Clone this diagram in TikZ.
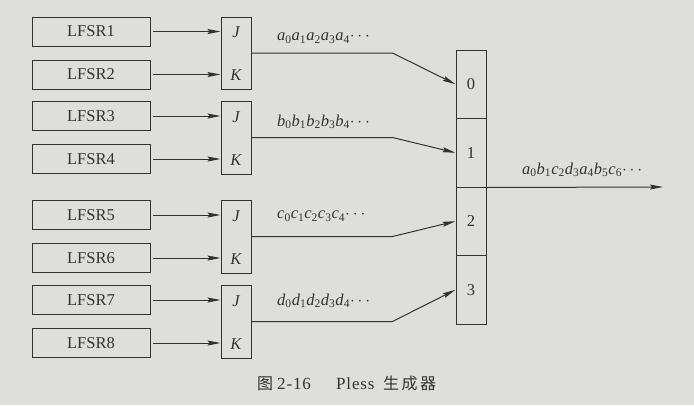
\documentclass[tikz,border=0pt]{standalone}
\usepackage{fontspec}
\setmainfont{Liberation Serif}
\newfontfamily\cjk{Noto Sans CJK SC}
\newfontfamily\capfont[LetterSpace=5]{Liberation Serif}
\usetikzlibrary{arrows.meta}
\definecolor{bg}{RGB}{222,222,220}
\definecolor{ln}{RGB}{50,50,50}
\newcommand\ssub[2]{\textit{#1}\textsubscript{#2}}
\begin{document}
\begin{tikzpicture}[x=1pt,y=-1pt,
  lf/.style={draw=ln, line width=1pt, minimum width=118pt, minimum height=29pt, inner sep=0pt, text=ln, font=\fontsize{16.5}{18}\selectfont},
  jk/.style={draw=ln, line width=1pt, minimum width=30pt, inner sep=0pt},
  pin/.style={text=ln, inner sep=0pt, font=\fontsize{16.5}{18}\selectfont\itshape},
  cell/.style={draw=ln, line width=1pt, minimum width=30pt, minimum height=68.5pt, inner sep=0pt, text=ln, font=\fontsize{16.5}{18}\selectfont},
  arr/.style={draw=ln, line width=1pt, -{Stealth[length=13pt,width=5pt,inset=2pt]}},
  seqlab/.style={text=ln, inner sep=0pt, anchor=west, font=\fontsize{16.5}{18}\selectfont},
  captext/.style={text=ln, inner sep=0pt, font=\fontsize{17}{18}\selectfont}]
\fill[bg] (0,0) rectangle (694,405);
% LFSR boxes
\node[lf] (l1) at (91,31.5) {LFSR1};
\node[lf] (l2) at (91,74.5) {LFSR2};
\node[lf] (l3) at (91,116) {LFSR3};
\node[lf] (l4) at (91,159) {LFSR4};
\node[lf] (l5) at (91,215) {LFSR5};
\node[lf] (l6) at (91,258) {LFSR6};
\node[lf] (l7) at (91,300) {LFSR7};
\node[lf] (l8) at (91,343) {LFSR8};
% JK boxes
\node[jk, minimum height=72pt] (jk1) at (236,53) {};
\node[jk, minimum height=73pt] (jk2) at (236,137.5) {};
\node[jk, minimum height=73pt] (jk3) at (236,236.5) {};
\node[jk, minimum height=73pt] (jk4) at (236,321.5) {};
\node[pin] (j1) at (236,32.5) {J};
\node[pin] (k1) at (236,75.5) {K};
\node[pin] (j2) at (236,117) {J};
\node[pin] (k2) at (236,160) {K};
\node[pin] (j3) at (236,216) {J};
\node[pin] (k3) at (236,259) {K};
\node[pin] (j4) at (236,301) {J};
\node[pin] (k4) at (236,344) {K};
% inputs
\foreach \i/\j in {1/1,2/1,3/2,4/2,5/3,6/3,7/4,8/4}
  \draw[arr] (l\i.east) ++(2,0) -- (l\i.east -| jk\j.west);
% multiplexer
\node[cell] (m0) at (471,84.25) {0};
\node[cell] (m1) at (471,152.75) {1};
\node[cell] (m2) at (471,221.25) {2};
\node[cell] (m3) at (471,289.75) {3};
% sequences
\draw[arr] (jk1.east) -- ++(141,0) -- (m0.west);
\draw[arr] (jk2.east) -- ++(141,0) -- (m1.west);
\draw[arr] (jk3.east) -- ++(141,0) -- (m2.west);
\draw[arr] (jk4.east) -- ++(141,0) -- (m3.west);
\node[seqlab] (sa) at (277,38) {\ssub a0\ssub a1\ssub a2\ssub a3\ssub a4$\cdots$};
\node[seqlab] (sb) at (277,122) {\ssub b0\ssub b1\ssub b2\ssub b3\ssub b4$\cdots$};
\node[seqlab] (sc) at (277,216) {\ssub c0\ssub c1\ssub c2\ssub c3\ssub c4$\cdots$};
\node[seqlab] (sd) at (277,301) {\ssub d0\ssub d1\ssub d2\ssub d3\ssub d4$\cdots$};
% output
\coordinate (out) at (663,187);
\draw[arr] (m1.south east) -- (out);
\node[seqlab] (so) at (522,170) {\ssub a0\ssub b1\ssub c2\ssub d3\ssub a4\ssub b5\ssub c6$\cdots$};
% caption
\node[captext, anchor=west] (cp) at (257,383) {\makebox[20pt][l]{\fontsize{16}{17}\cjk 图}\makebox[59pt][l]{\capfont 2-16}\makebox[47pt][l]{\capfont Pless}{\fontsize{16}{17}\cjk 生\hspace{2.5pt}成\hspace{2.5pt}器}};
\end{tikzpicture}
\end{document}
